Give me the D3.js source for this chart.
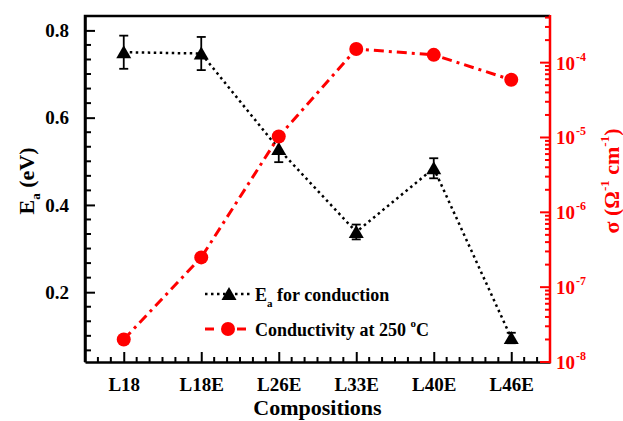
<!DOCTYPE html>
<html>
<head>
<meta charset="utf-8">
<script src="https://cdn.jsdelivr.net/npm/d3@7"></script>
<style>
  html, body { margin: 0; padding: 0; background: #fff; }
  svg { display: block; }
  svg text { font-family: "Liberation Serif", "Times New Roman", "DejaVu Serif", serif !important; font-weight: bold; }
</style>
</head>
<body>
<svg id="chart" width="623" height="421"></svg>
<script>
// Sample compositions along the x axis
const compositions = ["L18", "L18E", "L26E", "L33E", "L40E", "L46E"];
// Activation energy for conduction (eV) and its error
const activationEnergy = [0.750, 0.747, 0.528, 0.338, 0.484, 0.095];
const activationError = [0.038, 0.038, 0.030, 0.017, 0.023, 0.012];
// Conductivity at 250 °C (S/cm)
const conductivity = [2.0e-8, 2.5e-7, 1.03e-5, 1.52e-4, 1.27e-4, 5.9e-5];
// Tick values
const eaTicks = [0.2, 0.4, 0.6, 0.8];
const sigmaExponents = [-8, -7, -6, -5, -4];

const svg = d3.select("#chart");
const m = { left: 85, right: 550, top: 16, bottom: 362 };
const red = "#ff0000";

const x = d3.scaleLinear().domain([-0.5, compositions.length - 0.5]).range([m.left, m.right]);
const yEa = d3.scaleLinear().domain([0.04, 0.833]).range([m.bottom, m.top]);
const ySig = d3.scaleLog().domain([1e-8, 4.2e-4]).range([m.bottom, m.top]);

// Frame (top and left in black)
svg.append("path")
  .attr("d", `M${m.left},${m.bottom} L${m.left},${m.top} L${m.right},${m.top}`)
  .attr("fill", "none").attr("stroke", "#000").attr("stroke-width", 2.5);

// Bottom axis: major ticks at categories, 5 minor ticks between
const xMinor = d3.range(-3, compositions.length * 6 - 2).map(k => k / 6).filter(v => Math.abs(v - Math.round(v)) > 1e-6);
const xAxisMajor = d3.axisBottom(x).tickValues(d3.range(compositions.length))
  .tickFormat(i => compositions[i]).tickSizeInner(-10).tickSizeOuter(0).tickPadding(16);
const gx = svg.append("g").attr("transform", `translate(0,${m.bottom})`).call(xAxisMajor);
gx.select(".domain").attr("stroke-width", 2.5);
gx.selectAll(".tick line").attr("stroke-width", 2);
gx.selectAll("text").attr("font-size", 19).attr("fill", "#000");
gx.selectAll(".minor").data(xMinor).enter().append("line")
  .attr("x1", d => x(d)).attr("x2", d => x(d)).attr("y1", 0).attr("y2", -5)
  .attr("stroke", "#000").attr("stroke-width", 2);

// Left axis (activation energy)
const yMinor = d3.range(2, 25).map(k => k / 30).filter(v => v > 0.04 && v < 0.833 && Math.abs(v * 5 - Math.round(v * 5)) > 1e-6);
const gyl = svg.append("g").attr("transform", `translate(${m.left},0)`)
  .call(d3.axisLeft(yEa).tickValues(eaTicks).tickFormat(d3.format(".1f")).tickSizeInner(-10).tickSizeOuter(0).tickPadding(16));
gyl.select(".domain").attr("stroke-width", 2.5);
gyl.selectAll(".tick line").attr("stroke-width", 2);
gyl.selectAll("text").attr("font-size", 19).attr("fill", "#000");
gyl.selectAll(".minor").data(yMinor).enter().append("line")
  .attr("x1", 0).attr("x2", 6).attr("y1", d => yEa(d)).attr("y2", d => yEa(d))
  .attr("stroke", "#000").attr("stroke-width", 2);

// Right axis (conductivity, log scale)
const gyr = svg.append("g").attr("transform", `translate(${m.right},0)`);
gyr.append("line").attr("x1", 0).attr("x2", 0).attr("y1", m.top - 1).attr("y2", m.bottom + 1.2)
  .attr("stroke", red).attr("stroke-width", 2.5);
const sigMinor = [];
for (let e = -8; e <= -4; e++) for (let k = 2; k <= 9; k++) {
  const v = k * Math.pow(10, e);
  if (v < ySig.domain()[1]) sigMinor.push(v);
}
gyr.selectAll(".minor").data(sigMinor).enter().append("line")
  .attr("x1", 0).attr("x2", -5).attr("y1", d => ySig(d)).attr("y2", d => ySig(d))
  .attr("stroke", red).attr("stroke-width", 2);
gyr.selectAll(".major").data(sigmaExponents).enter().append("line")
  .attr("x1", 0).attr("x2", -10).attr("y1", d => ySig(Math.pow(10, d))).attr("y2", d => ySig(Math.pow(10, d)))
  .attr("stroke", red).attr("stroke-width", 2);
const rl = gyr.selectAll(".lbl").data(sigmaExponents).enter().append("text")
  .attr("x", 6).attr("y", d => ySig(Math.pow(10, d)) + 7)
  .attr("fill", red).attr("font-size", 19);
rl.append("tspan").text("10");
rl.append("tspan").attr("font-size", 12).attr("dx", 1).attr("dy", -9).text(d => "-" + (-d));

// Axis titles
svg.append("text").attr("x", m.left + (m.right - m.left) / 2).attr("y", 415)
  .attr("text-anchor", "middle").attr("font-size", 22).attr("fill", "#000").text("Compositions");

const tl = svg.append("text").attr("transform", `translate(34,${(m.top + m.bottom) / 2 - 8}) rotate(-90)`)
  .attr("text-anchor", "middle").attr("font-size", 22).attr("fill", "#000");
tl.append("tspan").text("E");
tl.append("tspan").attr("font-size", 13).attr("dy", 6).text("a");
tl.append("tspan").attr("dy", -6).text(" (eV)");

const tr = svg.append("text").attr("transform", `translate(619,${(m.top + m.bottom) / 2 - 8}) rotate(-90)`)
  .attr("text-anchor", "middle").attr("font-size", 22).attr("fill", red);
tr.append("tspan").text("σ (Ω");
tr.append("tspan").attr("font-size", 13).attr("dy", -10).text("-1");
tr.append("tspan").attr("dy", 10).text(" cm");
tr.append("tspan").attr("font-size", 13).attr("dy", -10).text("-1");
tr.append("tspan").attr("dy", 10).text(")");

// Activation energy series: dotted line, error bars, triangles
const tri = (cx, cy) => `M${cx},${cy - 7} L${cx + 7.5},${cy + 6} L${cx - 7.5},${cy + 6} Z`;
const eaLine = d3.line().x((d, i) => x(i)).y(d => yEa(d));
svg.append("path").datum(activationEnergy).attr("d", eaLine)
  .attr("fill", "none").attr("stroke", "#000").attr("stroke-width", 2.5).attr("stroke-dasharray", "2.5,3.5");
const eb = svg.append("g");
activationEnergy.forEach((v, i) => {
  const cx = x(i), y1 = yEa(v + activationError[i]), y2 = yEa(v - activationError[i]);
  eb.append("line").attr("x1", cx).attr("x2", cx).attr("y1", y1).attr("y2", y2).attr("stroke", "#000").attr("stroke-width", 1.8);
  [y1, y2].forEach(yy => eb.append("line").attr("x1", cx - 4.5).attr("x2", cx + 4.5).attr("y1", yy).attr("y2", yy)
    .attr("stroke", "#000").attr("stroke-width", 1.8));
});
svg.append("g").selectAll("path").data(activationEnergy).enter().append("path")
  .attr("d", (d, i) => tri(x(i), yEa(d))).attr("fill", "#000");

// Conductivity series: dash-dot red line with circles
const sigLine = d3.line().x((d, i) => x(i)).y(d => ySig(d));
svg.append("path").datum(conductivity).attr("d", sigLine)
  .attr("fill", "none").attr("stroke", red).attr("stroke-width", 3).attr("stroke-dasharray", "10,5,3,5");
svg.append("g").selectAll("circle").data(conductivity).enter().append("circle")
  .attr("cx", (d, i) => x(i)).attr("cy", d => ySig(d)).attr("r", 7).attr("fill", red);

// Legend
const lg = svg.append("g");
lg.append("line").attr("x1", 205).attr("x2", 250).attr("y1", 294).attr("y2", 294)
  .attr("stroke", "#000").attr("stroke-width", 2.5).attr("stroke-dasharray", "2.5,3.5");
lg.append("path").attr("d", tri(229, 294)).attr("fill", "#000");
const l1 = lg.append("text").attr("x", 255).attr("y", 301).attr("font-size", 18).attr("fill", "#000");
l1.append("tspan").text("E");
l1.append("tspan").attr("font-size", 11).attr("dy", 6).text("a");
l1.append("tspan").attr("dy", -6).text(" for conduction");

lg.append("line").attr("x1", 205).attr("x2", 214).attr("y1", 329).attr("y2", 329).attr("stroke", red).attr("stroke-width", 3);
lg.append("line").attr("x1", 237).attr("x2", 246).attr("y1", 329).attr("y2", 329).attr("stroke", red).attr("stroke-width", 3);
lg.append("circle").attr("cx", 228).attr("cy", 329).attr("r", 7).attr("fill", red);
const l2 = lg.append("text").attr("x", 255).attr("y", 336).attr("font-size", 18).attr("fill", "#000");
l2.append("tspan").text("Conductivity at 250 ");
l2.append("tspan").attr("font-size", 11).attr("dy", -9).text("o");
l2.append("tspan").attr("dy", 9).text("C");
</script>
</body>
</html>
